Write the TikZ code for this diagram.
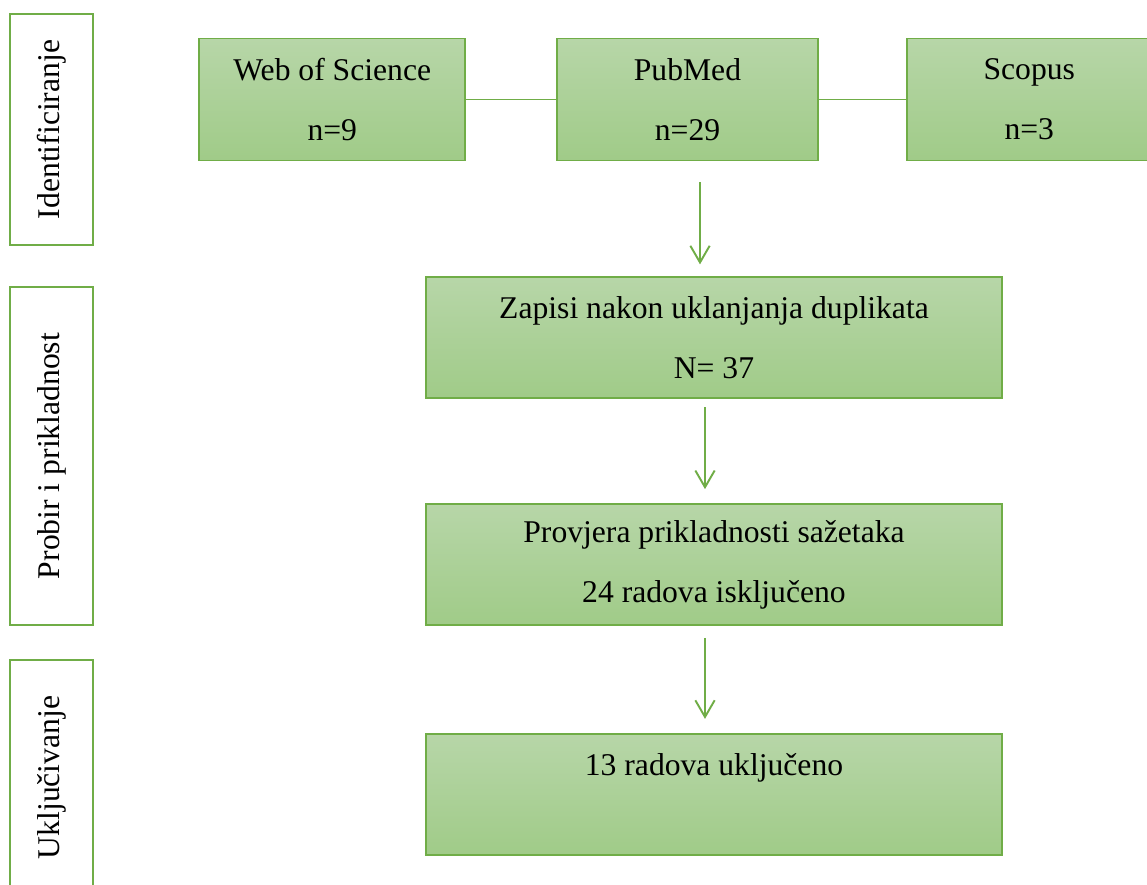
\documentclass[tikz,border=0pt]{standalone}
\usepackage{fontspec}
\setmainfont{Liberation Serif}
\usepackage{xcolor}
\usepackage{tikz}
\usetikzlibrary{
    shapes,
    positioning,
    arrows.meta
}
\definecolor{prismagreen}{RGB}{112,173,71}
\definecolor{prismatop}{RGB}{183,214,168}
\definecolor{prismabottom}{RGB}{160,203,136}
\tikzset{source/.style={
    draw=prismagreen,
    line width=1pt,
    top color=prismatop,
    bottom color=prismabottom,
    minimum height=2.44cm,
    inner sep=0pt,
}}
\tikzset{stage/.style={
    draw=prismagreen,
    line width=1pt,
    top color=prismatop,
    bottom color=prismabottom,
    minimum height=2.42cm,
    minimum width=11.52cm,
    inner sep=0pt,
}}
\tikzset{phase/.style={
    draw=prismagreen,
    fill=white,
    line width=1.7pt,
    minimum height=1.66cm,
    rotate=90,
    inner sep=0pt,
}}
\tikzset{link/.style={
    draw=prismagreen,
    line width=1.1pt,
}}
\tikzset{arrow/.style={
    -{Straight Barb[length=9.5pt,width=11pt]},
    line width=1.1pt,
    color=prismagreen,
}}

\begin{document}
\begin{tikzpicture}[
                align=center,
                font=\fontsize{18}{22}\selectfont
        ]
            \useasboundingbox (0,0) rectangle (22.94,-17.7);

            % sources
            \node[source, minimum width=5.22cm] at (13.75,-1.99) (pubmed) {PubMed\\[12pt]n=29};
            \node[source, minimum width=5.32cm, left=1.8cm of pubmed] (wos) {Web of Science\\[12pt]n=9};
            \node[source, minimum width=4.9cm, right=1.74cm of pubmed] (scopus) {Scopus\\[12pt]n=3};
            \draw[link] (wos) -- (pubmed);
            \draw[link] (pubmed) -- (scopus);

            % flow
            \node[stage, below=2.3cm of pubmed, xshift=0.53cm] (dupl) {Zapisi nakon uklanjanja duplikata\\[12pt]N= 37};
            \node[stage, below=2.08cm of dupl] (screen) {Provjera prikladnosti sažetaka\\[12pt]24 radova isključeno};
            \node[stage, below=2.14cm of screen] (incl) {13 radova uključeno\\[12pt]~};

            \draw[arrow, shorten <=0.42cm, shorten >=0.24cm] ([xshift=0.25cm]pubmed.south) -- ([xshift=0.25cm]pubmed.south |- dupl.north);
            \draw[arrow, shorten <=0.16cm, shorten >=0.28cm] ([xshift=-0.18cm]dupl.south) -- ([xshift=-0.18cm]dupl.south |- screen.north);
            \draw[arrow, shorten <=0.24cm, shorten >=0.28cm] ([xshift=-0.18cm]screen.south) -- ([xshift=-0.18cm]screen.south |- incl.north);

            % phases
            \node[phase, minimum width=4.62cm] at (1.03,-2.59) (ident) {Identificiranje};
            \node[phase, minimum width=6.76cm] at (1.03,-9.12) (probir) {Probir i prikladnost};
            \node[phase, minimum width=4.7cm] at (1.03,-15.55) (uklj) {Uključivanje};

        \end{tikzpicture}
\end{document}
